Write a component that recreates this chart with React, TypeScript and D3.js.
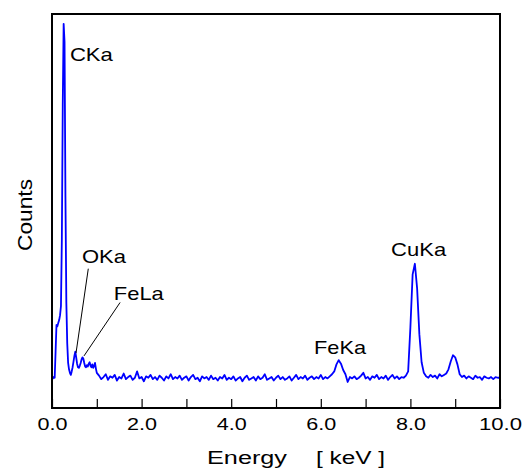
import React, { useEffect, useRef } from 'react';
import * as d3 from 'd3';

// low-energy part of the spectrum, one value every 0.02 keV from 0.00 to 1.00
const lowStep = 0.02;
const lowCounts = [
  43, 42, 44, 43, 80, 118, 116, 121, 125, 132,
  145, 240, 430, 546, 520, 300, 150, 92, 64, 55,
  50, 47, 52, 58, 66, 74, 80, 72, 63, 58,
  57, 60, 64, 69, 72, 70, 64, 59, 58, 61,
  59, 63, 65, 60, 58, 62, 57, 60, 64, 56,
  50,
];

// rest of the spectrum, one value every 0.05 keV from 1.05 to 10.00 (one row per keV)
const highStart = 1.05;
const highStep = 0.05;
const highCounts = [
  46, 41, 44, 48, 40, 45, 43, 47, 39, 44, 42, 49, 41, 44, 46, 40, 43, 52, 42, 44,
  38, 45, 43, 47, 41, 44, 40, 46, 43, 39, 45, 42, 48, 41, 44, 42, 46, 40, 43, 45,
  39, 44, 47, 41, 43, 38, 45, 42, 44, 40, 46, 41, 43, 39, 44, 42, 47, 40, 43, 41,
  45, 39, 42, 44, 38, 43, 46, 40, 42, 44, 39, 45, 41, 43, 48, 40, 42, 44, 39, 43,
  46, 41, 44, 40, 42, 45, 39, 43, 47, 41, 44, 42, 46, 40, 43, 45, 41, 44, 42, 47,
  41, 44, 42, 45, 48, 52, 62, 68, 63, 54, 48, 37, 44, 42, 45, 41, 43, 46, 50, 42,
  44, 40, 45, 43, 47, 41, 44, 42, 46, 40, 44, 47, 42, 45, 41, 44, 43, 46, 52, 115,
  190, 205, 170, 105, 65, 50, 45, 43, 47, 44, 46, 42, 48, 45, 47, 49, 55, 66, 75, 72,
  62, 48, 44, 46, 42, 45, 43, 41, 46, 43, 44, 40, 45, 43, 42, 44, 41, 44, 43, 43,
];

const xTicks = [0, 1, 2, 3, 4, 5, 6, 7, 8, 9, 10];
const xTickLabels = ['0.0', '', '2.0', '', '4.0', '', '6.0', '', '8.0', '', '10.0'];

const peakNames = ['CKa', 'OKa', 'FeLa', 'FeKa', 'CuKa'];
// where each peak label sits, in keV / counts
const labelEnergy = [0.4, 0.67, 1.38, 5.85, 7.57];
const labelCounts = [493, 206, 153, 77, 216];

const W = 526;
const H = 468;
const FONT = '"Liberation Sans", Arial, Helvetica, sans-serif';

const App = () => {
  const svgRef = useRef<SVGSVGElement>(null);

  useEffect(() => {
    const svg = d3.select(svgRef.current);
    svg.selectAll('*').remove();

    const left = 52, right = 500, top = 14, bottom = 408;

    const x = d3.scaleLinear().domain([0, 10]).range([left, right]);
    const y = d3.scaleLinear().domain([0, 560]).range([bottom, top]);

    const points: [number, number][] = [
      ...lowCounts.map((c, i) => [i * lowStep, c] as [number, number]),
      ...highCounts.map((c, i) => [highStart + i * highStep, c] as [number, number]),
    ];

    const line = d3
      .line<[number, number]>()
      .x(d => x(d[0]))
      .y(d => y(d[1]));

    svg
      .append('path')
      .datum(points)
      .attr('d', line)
      .attr('fill', 'none')
      .attr('stroke', '#0000ff')
      .attr('stroke-width', 1.8)
      .attr('stroke-linejoin', 'round');

    // x axis, ticks pointing inwards
    const axis = svg
      .append('g')
      .attr('transform', `translate(0,${bottom})`)
      .call(
        d3
          .axisBottom(x)
          .tickValues(xTicks)
          .tickSize(-9)
          .tickPadding(10)
          .tickFormat((d, i) => xTickLabels[i])
      );
    axis.select('.domain').remove();
    axis.selectAll('line').attr('stroke', '#000').attr('stroke-width', 1.2);
    axis
      .selectAll('text')
      .attr('fill', '#000')
      .style('font-family', FONT)
      .style('font-size', '17px')
      .attr('textLength', (d, i) => (xTickLabels[i] === '' ? null : xTickLabels[i].length > 3 ? 43 : 30))
      .attr('lengthAdjust', 'spacingAndGlyphs');

    // frame
    svg
      .append('rect')
      .attr('x', left)
      .attr('y', top)
      .attr('width', right - left)
      .attr('height', bottom - top)
      .attr('fill', 'none')
      .attr('stroke', '#000')
      .attr('stroke-width', 2);

    // peak labels
    const labelWidths = [43, 44, 50, 52, 55];
    svg
      .selectAll('.peak')
      .data(peakNames)
      .enter()
      .append('text')
      .attr('class', 'peak')
      .attr('x', (d, i) => x(labelEnergy[i]))
      .attr('y', (d, i) => y(labelCounts[i]))
      .attr('textLength', (d, i) => labelWidths[i])
      .attr('lengthAdjust', 'spacingAndGlyphs')
      .style('font-family', FONT)
      .style('font-size', '19px')
      .attr('fill', '#000')
      .text(d => d);

    // leader lines for OKa and FeLa
    const leaders = [
      [[0.81, 198], [0.536, 78]],
      [[1.52, 150], [0.714, 74]],
    ];
    svg
      .selectAll('.leader')
      .data(leaders)
      .enter()
      .append('line')
      .attr('class', 'leader')
      .attr('x1', d => x(d[0][0]))
      .attr('y1', d => y(d[0][1]))
      .attr('x2', d => x(d[1][0]))
      .attr('y2', d => y(d[1][1]))
      .attr('stroke', '#000')
      .attr('stroke-width', 1);

    // axis titles
    svg
      .append('text')
      .attr('x', 207)
      .attr('y', 464)
      .attr('textLength', 80)
      .attr('lengthAdjust', 'spacingAndGlyphs')
      .style('font-family', FONT)
      .style('font-size', '17.5px')
      .attr('fill', '#000')
      .text('Energy');
    svg
      .append('text')
      .attr('x', 316)
      .attr('y', 464)
      .attr('textLength', 69)
      .attr('lengthAdjust', 'spacingAndGlyphs')
      .style('font-family', FONT)
      .style('font-size', '17.5px')
      .attr('fill', '#000')
      .text('[ keV ]');

    svg
      .append('text')
      .attr('transform', `translate(32,215) rotate(-90)`)
      .attr('text-anchor', 'middle')
      .attr('textLength', 72)
      .attr('lengthAdjust', 'spacingAndGlyphs')
      .style('font-family', FONT)
      .style('font-size', '20px')
      .attr('fill', '#000')
      .text('Counts');
  }, []);

  return (
    <svg
      ref={svgRef}
      width={W}
      height={H}
      style={{ position: 'absolute', left: 0, top: 0, background: '#fff' }}
    />
  );
};

export default App;
